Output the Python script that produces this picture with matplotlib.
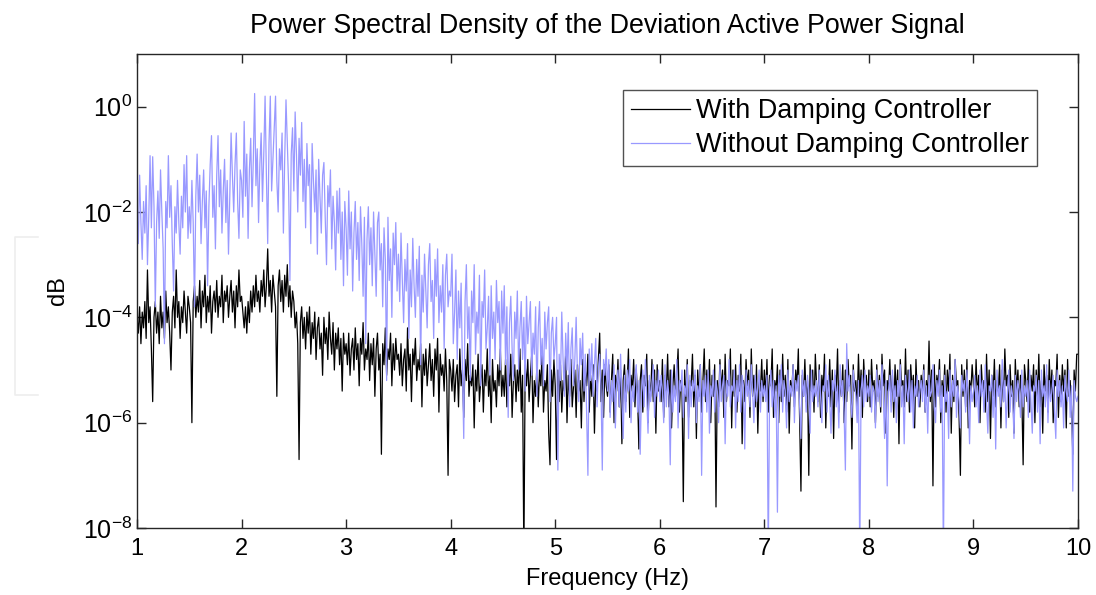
import matplotlib
matplotlib.use("Agg")
import matplotlib.pyplot as plt
from matplotlib.lines import Line2D
from matplotlib.ticker import FixedLocator, LogFormatterSciNotation, NullLocator

plt.rcParams['font.family'] = ['Liberation Sans', 'DejaVu Sans']
plt.rcParams['mathtext.fontset'] = 'custom'
plt.rcParams['mathtext.rm'] = 'Liberation Sans'
plt.rcParams['mathtext.default'] = 'regular'

# each row holds 40 readings, 0.0125 Hz apart, starting at 1.0, 1.5, 2.0 ... Hz
f_start = 1.0
row_span = 0.5
f_step = 0.0125

# log10 of the PSD with the damping controller
with_rows = [
    [-4.0, -4.3, -3.8, -4.5, -3.9, -4.2, -3.7, -4.4, -3.1, -4.1, -3.8, -4.6, -5.6, -4.0, -3.7, -4.3, -3.9, -4.5, -3.6, -4.2,
     -3.9, -4.4, -3.5, -4.1, -3.8, -4.3, -5.0, -3.9, -3.6, -4.2, -3.1, -4.0, -3.7, -4.4, -3.8, -4.1, -3.5, -3.9, -4.3, -3.6],
    [-3.8, -4.1, -6.0, -3.7, -3.4, -4.0, -3.6, -3.9, -3.3, -4.2, -3.5, -3.8, -3.2, -4.1, -3.6, -3.9, -3.4, -4.3, -3.7, -3.5,
     -3.9, -3.3, -4.0, -3.6, -3.8, -3.2, -4.1, -3.5, -3.7, -3.4, -4.0, -3.6, -3.3, -3.9, -3.5, -4.2, -3.4, -3.8, -3.1, -3.7],
    [-3.6, -3.9, -4.2, -3.8, -4.3, -3.7, -4.1, -3.5, -3.9, -3.4, -3.8, -3.2, -3.7, -3.5, -3.9, -3.3, -3.6, -3.1, -3.8, -3.4,
     -2.7, -3.6, -3.3, -3.9, -3.2, -3.5, -3.8, -5.5, -3.4, -3.1, -3.7, -3.3, -3.9, -3.2, -3.6, -3.0, -3.8, -3.4, -4.0, -3.5],
    [-3.7, -4.2, -3.9, -4.5, -6.7, -4.1, -3.8, -4.4, -4.0, -4.6, -3.9, -4.3, -3.8, -4.7, -4.1, -4.4, -3.9, -4.8, -4.2, -4.0,
     -4.6, -4.3, -5.1, -4.0, -4.5, -4.2, -4.8, -3.9, -4.4, -4.7, -4.1, -5.0, -4.3, -4.6, -4.2, -4.9, -4.4, -5.4, -4.3, -4.7],
    [-4.5, -4.9, -4.3, -5.1, -4.6, -4.4, -5.0, -4.2, -4.8, -4.5, -5.3, -4.4, -4.7, -4.1, -5.0, -4.6, -4.8, -4.3, -5.2, -4.5,
     -4.9, -4.4, -5.5, -4.6, -4.3, -5.0, -4.7, -6.6, -4.5, -4.9, -4.2, -5.1, -4.6, -4.8, -4.3, -5.3, -4.5, -5.0, -4.4, -4.8],
    [-4.7, -5.1, -4.5, -5.3, -4.8, -4.6, -5.4, -4.2, -5.0, -4.7, -5.6, -4.6, -4.9, -4.4, -5.2, -4.8, -5.0, -4.5, -5.7, -4.7,
     -5.1, -4.6, -5.3, -4.9, -4.5, -5.2, -4.8, -5.5, -4.6, -5.0, -4.4, -5.8, -4.7, -5.1, -4.9, -5.4, -4.6, -5.2, -7.0, -4.8],
    [-5.0, -5.4, -4.8, -5.6, -5.1, -4.9, -5.7, -4.6, -5.3, -5.0, -5.9, -4.8, -5.2, -4.5, -5.5, -5.1, -5.3, -4.9, -6.1, -5.0,
     -5.4, -4.7, -5.6, -5.2, -4.9, -5.8, -5.0, -5.3, -4.6, -5.5, -5.1, -6.0, -4.8, -5.4, -5.2, -5.7, -4.9, -5.3, -4.6, -5.5],
    [-5.1, -5.5, -4.8, -5.7, -5.0, -5.3, -4.7, -5.9, -5.2, -4.9, -5.6, -5.0, -5.4, -4.6, -5.8, -5.1, -8.6, -4.9, -5.3, -4.8,
     -5.6, -5.1, -4.7, -6.0, -5.2, -5.5, -4.9, -5.7, -5.0, -5.3, -4.6, -5.8, -5.2, -5.4, -4.9, -6.2, -6.8, -5.0, -5.5, -4.8],
    [-5.3, -6.7, -5.0, -5.6, -4.9, -5.8, -5.2, -5.4, -4.7, -6.0, -5.1, -5.5, -4.8, -5.7, -5.3, -5.0, -5.9, -4.9, -5.4, -5.2,
     -6.1, -4.8, -5.6, -5.0, -5.3, -4.7, -5.8, -5.1, -5.5, -4.9, -6.2, -5.2, -5.4, -4.8, -4.3, -5.6, -5.0, -5.9, -4.9, -5.3],
    [-5.5, -4.9, -5.8, -5.2, -4.7, -6.0, -5.1, -5.4, -4.8, -5.7, -5.0, -6.4, -5.2, -4.9, -5.6, -5.3, -4.6, -5.9, -5.1, -5.4,
     -4.8, -5.7, -5.0, -5.5, -6.5, -5.2, -4.9, -5.8, -5.1, -5.3, -4.7, -6.0, -5.2, -5.5, -4.8, -5.6, -5.0, -6.2, -4.9, -5.4],
    [-5.2, -5.6, -4.8, -5.9, -5.1, -5.4, -4.7, -5.7, -5.0, -6.1, -5.3, -4.9, -5.5, -5.1, -4.6, -5.8, -5.2, -5.4, -7.5, -5.0,
     -5.6, -4.8, -5.9, -5.2, -5.3, -4.7, -5.7, -5.1, -6.3, -5.0, -5.5, -4.9, -5.8, -5.2, -4.6, -5.6, -5.0, -5.4, -4.8, -6.0],
    [-5.1, -5.5, -4.9, -7.6, -5.2, -5.7, -4.8, -5.4, -5.0, -5.9, -4.7, -5.6, -5.2, -5.3, -4.6, -6.1, -5.0, -5.5, -4.9, -5.8,
     -5.1, -5.4, -4.7, -6.4, -5.2, -5.6, -4.8, -5.3, -5.0, -5.9, -4.6, -5.5, -5.1, -5.7, -4.9, -6.2, -5.2, -5.4, -4.8, -5.6],
    [-5.0, -5.5, -4.8, -5.8, -5.1, -5.3, -4.6, -5.9, -5.2, -5.4, -4.9, -6.0, -5.0, -5.6, -4.7, -5.5, -5.1, -5.8, -4.8, -6.2,
     -5.2, -5.4, -4.9, -5.7, -5.0, -5.3, -4.6, -5.9, -7.3, -5.1, -5.5, -4.8, -5.6, -5.2, -7.0, -4.9, -5.4, -5.0, -5.8, -4.7],
    [-5.3, -5.6, -4.9, -5.9, -5.1, -5.4, -4.7, -6.1, -5.2, -5.5, -4.8, -5.7, -5.0, -6.3, -5.1, -5.4, -4.6, -5.8, -5.2, -5.5,
     -4.9, -6.0, -5.0, -5.6, -4.8, -5.3, -5.1, -6.5, -4.9, -5.4, -5.2, -5.7, -4.7, -5.5, -5.0, -5.9, -4.8, -5.3, -5.1, -5.6],
    [-5.0, -5.7, -4.8, -5.4, -5.2, -6.0, -4.9, -5.5, -5.1, -5.8, -4.7, -5.3, -5.0, -6.2, -5.2, -5.4, -4.8, -5.6, -5.1, -5.9,
     -4.9, -5.5, -5.0, -6.4, -4.8, -5.3, -5.2, -5.7, -4.6, -5.6, -5.0, -5.8, -4.9, -5.4, -5.1, -6.1, -4.8, -5.5, -5.2, -5.7],
    [-5.1, -5.4, -4.9, -5.8, -5.2, -5.5, -4.45, -5.6, -5.0, -7.2, -4.9, -5.7, -5.1, -5.3, -4.8, -6.0, -5.2, -5.5, -4.9, -5.8,
     -5.0, -5.4, -4.7, -6.2, -5.1, -5.6, -4.8, -5.3, -5.2, -5.9, -7.0, -4.9, -5.5, -5.0, -5.7, -4.8, -6.1, -5.2, -5.4, -4.9],
    [-5.3, -5.7, -4.8, -5.5, -5.1, -6.0, -4.9, -5.4, -5.2, -5.8, -4.7, -5.6, -5.0, -6.3, -5.1, -5.5, -4.8, -5.7, -5.2, -5.4,
     -4.9, -6.1, -5.0, -5.6, -4.6, -5.3, -5.1, -5.9, -4.9, -5.5, -5.2, -6.2, -4.8, -5.4, -5.0, -5.7, -5.1, -5.5, -6.8, -4.9],
    [-5.2, -5.6, -4.8, -5.8, -5.1, -5.4, -4.9, -6.0, -5.0, -5.5, -4.7, -5.7, -5.2, -6.2, -4.9, -5.4, -5.1, -5.8, -4.8, -5.5,
     -5.0, -6.0, -5.2, -5.3, -4.7, -5.9, -5.1, -5.6, -4.9, -5.4, -5.0, -6.1, -4.8, -5.5, -5.2, -5.7, -6.6, -5.0, -5.4, -4.7],
    [-4.7],
]

# log10 of the PSD without the damping controller
without_rows = [
    [-2.0, -2.6, -1.3, -2.2, -2.9, -1.8, -2.4, -1.5, -3.0, -2.1, -0.93, -2.3, -0.95, -1.9, -3.8, -2.2, -1.6, -2.5, -1.2, -2.0,
     -2.7, -4.5, -1.8, -2.3, -0.93, -2.1, -1.5, -2.6, -3.5, -1.9, -2.4, -1.4, -2.2, -2.8, -1.7, -2.3, -1.1, -2.0, -0.93, -2.5],
    [-1.9, -2.4, -1.4, -2.2, -3.8, -1.7, -0.9, -2.0, -1.3, -2.6, -1.8, -1.2, -2.3, -1.6, -3.4, -1.9, -1.1, -0.55, -2.1, -1.5,
     -2.7, -1.3, -0.55, -1.9, -1.2, -2.4, -1.6, -1.0, -2.2, -1.4, -2.8, -1.7, -0.5, -1.3, -2.0, -1.1, -0.5, -1.8, -2.5, -1.2],
    [-1.4, -2.1, -0.28, -1.7, -0.9, -2.5, -1.2, -0.6, -1.9, -1.0, 0.25, -1.5, -0.8, -2.2, -1.1, -0.5, -1.8, -0.9, 0.2, -1.3,
     -2.6, -0.7, 0.2, -1.6, -1.0, -0.4, 0.2, -1.4, -2.0, -0.8, -1.2, -0.5, -2.4, -1.0, 0.13, -0.7, -1.5, -3.3, -0.9, -0.4],
    [-1.6, -0.1, -0.9, -2.0, -0.6, -1.3, -0.3, -1.8, -1.0, -2.3, -0.7, -1.5, -1.1, -2.6, -0.7, -1.4, -2.0, -1.2, -2.8, -1.0,
     -1.7, -2.4, -1.3, -1.06, -2.1, -3.0, -1.5, -1.9, -1.2, -2.7, -1.7, -2.2, -3.1, -1.6, -2.4, -1.55, -2.9, -2.0, -3.4, -1.8],
    [-2.3, -3.2, -1.6, -2.7, -2.0, -3.5, -2.4, -1.8, -2.9, -2.2, -3.3, -1.9, -2.6, -3.6, -2.1, -4.5, -2.5, -1.9, -3.0, -2.3,
     -3.4, -2.0, -2.8, -3.6, -2.2, -2.0, -3.1, -2.6, -3.8, -2.3, -2.9, -5.2, -2.1, -3.3, -2.7, -4.0, -2.4, -3.0, -2.2, -3.5],
    [-2.8, -3.7, -2.4, -3.3, -4.1, -2.9, -3.5, -2.6, -4.4, -3.1, -3.8, -2.5, -3.4, -4.0, -2.9, -3.6, -2.65, -4.9, -3.2, -3.9,
     -2.8, -3.5, -4.2, -3.0, -2.6, -3.7, -3.3, -4.4, -2.9, -3.6, -2.7, -4.1, -3.4, -3.9, -3.0, -4.6, -3.2, -2.8, -3.8, -3.5],
    [-3.6, -2.8, -4.5, -3.9, -3.1, -4.8, -3.5, -4.2, -3.35, -5.0, -6.3, -3.7, -3.0, -4.4, -3.8, -5.2, -3.5, -4.1, -3.0, -4.7,
     -3.9, -4.3, -3.2, -5.3, -3.7, -4.0, -3.1, -4.6, -4.2, -3.6, -5.1, -3.4, -4.4, -3.9, -4.8, -3.3, -4.1, -3.7, -5.0, -3.5],
    [-4.3, -3.4, -4.9, -3.8, -5.9, -4.1, -3.6, -4.6, -5.2, -3.9, -4.4, -3.5, -5.0, -4.2, -3.7, -4.8, -4.0, -5.4, -3.6, -4.5,
     -4.1, -3.7, -5.1, -4.3, -4.7, -3.8, -5.5, -4.2, -3.7, -4.9, -4.4, -5.3, -3.9, -4.6, -4.1, -3.8, -5.6, -4.3, -4.0, -4.8],
    [-4.5, -4.0, -6.9, -4.7, -5.2, -3.9, -4.8, -5.5, -4.3, -5.0, -4.1, -5.7, -4.6, -4.2, -5.3, -4.8, -4.0, -5.1, -5.6, -4.4,
     -4.9, -4.3, -5.4, -4.7, -5.8, -7.0, -4.6, -5.2, -4.5, -5.5, -4.9, -4.4, -5.7, -5.0, -4.7, -5.3, -6.9, -4.8, -5.1, -4.6],
    [-5.4, -4.8, -5.9, -5.2, -5.6, -4.9, -6.1, -5.3, -5.0, -5.7, -4.7, -5.5, -6.3, -5.1, -5.8, -5.0, -5.4, -4.8, -6.0, -5.3,
     -5.6, -5.1, -4.9, -5.8, -5.2, -6.6, -5.4, -5.0, -5.7, -4.8, -5.5, -6.2, -5.1, -5.6, -5.3, -4.9, -5.9, -5.2, -5.5, -5.0],
    [-5.6, -5.1, -5.4, -6.0, -4.9, -5.7, -5.2, -5.5, -6.8, -5.0, -5.8, -5.3, -5.6, -4.8, -6.1, -5.2, -5.4, -5.0, -5.9, -5.3,
     -5.5, -4.9, -6.3, -5.1, -5.7, -5.2, -5.4, -5.0, -6.0, -5.3, -5.6, -4.9, -7.0, -5.2, -5.5, -5.1, -5.8, -5.0, -6.2, -5.3],
    [-5.5, -5.0, -5.8, -5.2, -5.4, -6.0, -4.9, -5.6, -5.3, -5.1, -6.4, -5.2, -5.5, -4.8, -5.7, -5.3, -5.4, -5.0, -6.1, -5.2,
     -5.6, -4.9, -5.8, -5.1, -5.3, -6.5, -5.0, -5.5, -5.2, -5.7, -4.9, -5.4, -6.0, -5.1, -5.6, -5.3, -5.0, -5.8, -5.2, -5.5],
    [-5.3, -5.6, -5.1, -8.6, -5.4, -5.0, -5.7, -5.2, -5.9, -5.3, -7.7, -5.1, -5.5, -4.9, -5.8, -5.2, -5.4, -6.1, -5.0, -5.6,
     -5.3, -5.5, -4.9, -6.0, -5.2, -5.4, -5.1, -5.7, -6.3, -5.0, -5.5, -5.2, -5.8, -5.1, -5.4, -6.2, -5.0, -5.6, -5.3, -5.5],
    [-5.2, -5.7, -5.0, -5.5, -6.0, -5.3, -5.4, -4.9, -5.8, -5.1, -5.6, -6.2, -5.2, -5.4, -5.0, -5.7, -5.3, -6.1, -4.9, -5.5,
     -5.2, -5.8, -6.9, -4.5, -5.4, -5.1, -5.6, -5.9, -5.0, -5.3, -5.5, -6.0, -5.2, -8.6, -5.4, -5.1, -5.7, -5.0, -5.6, -5.3],
    [-5.5, -5.1, -5.8, -5.3, -5.4, -6.1, -5.0, -5.6, -5.2, -5.7, -4.9, -5.5, -6.3, -5.2, -7.2, -5.4, -5.1, -5.8, -5.0, -5.6,
     -5.3, -6.0, -5.2, -5.5, -4.9, -5.7, -5.3, -6.4, -5.1, -5.4, -5.6, -5.0, -5.8, -5.2, -6.1, -5.3, -5.5, -5.1, -5.7, -5.4],
    [-5.2, -5.6, -5.0, -5.8, -5.3, -6.2, -5.1, -5.5, -5.4, -4.9, -5.7, -6.0, -5.2, -5.5, -5.0, -5.8, -5.3, -8.6, -5.1, -5.6,
     -5.4, -6.3, -5.0, -5.7, -5.2, -5.5, -4.8, -5.9, -5.3, -5.6, -6.1, -5.1, -5.4, -5.2, -5.8, -5.0, -5.5, -6.4, -5.3, -5.6],
    [-5.4, -5.1, -5.7, -5.3, -6.0, -5.0, -5.5, -5.2, -5.8, -4.9, -5.6, -6.2, -5.3, -5.4, -5.1, -5.9, -5.2, -6.5, -5.0, -5.5,
     -5.3, -5.7, -4.8, -5.6, -5.2, -6.1, -5.4, -5.0, -5.8, -5.3, -5.5, -6.3, -5.1, -5.6, -5.2, -5.4, -5.9, -5.0, -5.7, -5.3],
    [-5.5, -5.2, -5.9, -5.0, -5.6, -6.2, -5.3, -5.4, -5.1, -5.8, -5.2, -6.4, -5.0, -5.5, -5.3, -5.7, -4.9, -6.0, -5.2, -5.6,
     -5.4, -5.1, -5.8, -6.3, -5.0, -5.5, -5.2, -5.7, -5.3, -6.1, -5.1, -5.4, -5.6, -5.0, -5.9, -5.3, -7.3, -5.2, -5.5, -5.6],
    [-5.5],
]


def unpack(rows):
    freq, psd = [], []
    for k, row in enumerate(rows):
        for j, v in enumerate(row):
            freq.append(f_start + row_span * k + f_step * j)
            psd.append(10 ** v)
    return freq, psd


freq_with, psd_with = unpack(with_rows)
freq_without, psd_without = unpack(without_rows)

fig = plt.figure(figsize=(10.96, 5.95), dpi=100)
ax = fig.add_axes([0.125, 0.1126, 0.8586, 0.7966])

ax.plot(freq_with, psd_with, color='black', lw=0.9, label='With Damping Controller')
ax.plot(freq_without, psd_without, color='#9999ff', lw=0.9, label='Without Damping Controller')

ax.set_yscale('log')
ax.set_xlim(1, 10)
ax.set_ylim(1e-8, 1e1)
ax.set_xticks(range(1, 11))
ax.yaxis.set_major_locator(FixedLocator([1e-8, 1e-6, 1e-4, 1e-2, 1e0]))
ax.yaxis.set_major_formatter(LogFormatterSciNotation())
ax.yaxis.set_minor_locator(NullLocator())
ax.tick_params(direction='in', top=True, right=True, length=6.5, width=1, color='#262626')
ax.tick_params(axis='y', labelsize=18, pad=3.5)
ax.tick_params(axis='x', labelsize=17, pad=7)
for s in ax.spines.values():
    s.set_linewidth(1)
    s.set_color('#262626')

ax.set_title('Power Spectral Density of the Deviation Active Power Signal', fontsize=19.3, pad=15)
ax.set_xlabel('Frequency (Hz)', fontsize=17, labelpad=6)
ax.set_ylabel('dB', fontsize=17, labelpad=10)

leg = ax.legend(loc='upper right', bbox_to_anchor=(0.9564, 0.924), borderaxespad=0, fontsize=19.5,
                frameon=True, fancybox=False, edgecolor='#262626', handlelength=2.2, handletextpad=0.2,
                borderpad=0.3, labelspacing=0.3)
leg.get_frame().set_linewidth(1)

# faint bracket at the left edge of the picture
fig.add_artist(Line2D([38 / 1096, 15 / 1096, 15 / 1096, 38 / 1096],
                      [1 - 237 / 595, 1 - 237 / 595, 1 - 395 / 595, 1 - 395 / 595],
                      color='#eeeeee', lw=1.2))

fig.savefig('out.png', dpi=100)
